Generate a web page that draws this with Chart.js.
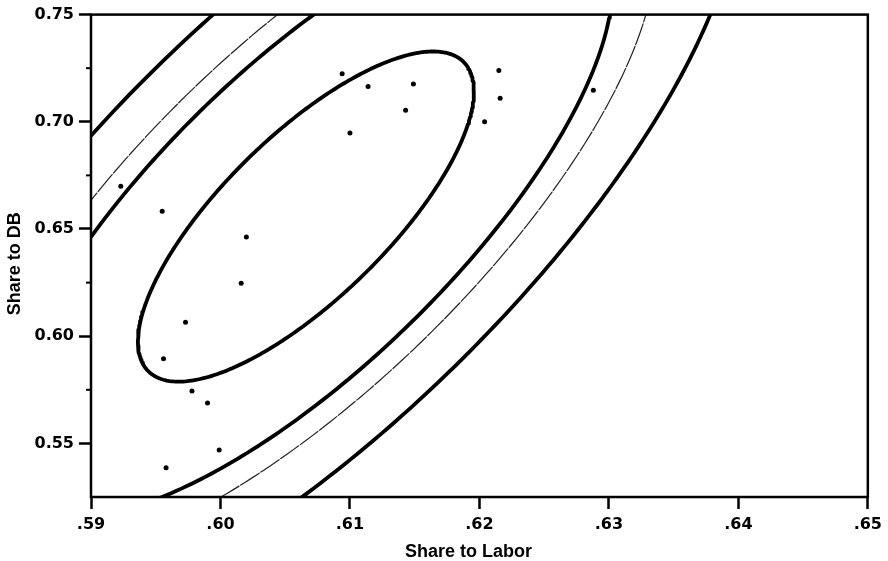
<!DOCTYPE html>
<html>
<head>
<meta charset="utf-8">
<script src="https://cdn.jsdelivr.net/npm/chart.js@4"></script>
<style>
  html, body { margin: 0; padding: 0; background: #fff; }
  canvas { display: block; }
</style>
</head>
<body>
<canvas id="chart" width="888" height="561"></canvas>
<script>
// Observed shares: labor (x) and DB (y)
const shareToLabor = [0.5923, 0.5955, 0.6020, 0.6016, 0.5973, 0.5956, 0.5978, 0.5990, 0.5999, 0.5958,
                      0.6094, 0.6114, 0.6149, 0.6143, 0.6100, 0.6215, 0.6216, 0.6204, 0.6288];
const shareToDB    = [0.6699, 0.6583, 0.6463, 0.6247, 0.6065, 0.5895, 0.5744, 0.5688, 0.5469, 0.5387,
                      0.7224, 0.7165, 0.7176, 0.7054, 0.6948, 0.7239, 0.7110, 0.7000, 0.7147];

// Joint confidence region: centre, standard deviations and correlation of the estimate
const regionCenter = [0.6066, 0.6558];
const regionSD = [0.01102, 0.0654];
const regionCorr = 0.758;
const confidenceLevels = [0.50, 0.90, 0.95, 0.99];

// Axis ticks and titles
const xTicks = [0.59, 0.60, 0.61, 0.62, 0.63, 0.64, 0.65];
const yTicks = [0.55, 0.60, 0.65, 0.70, 0.75];
const yMinorTicks = [0.575, 0.625, 0.675, 0.725];
const xTitle = 'Share to Labor';
const yTitle = 'Share to DB';

// Outline of the bivariate-normal confidence ellipse for a given coverage level
function confidenceEllipse(level, n = 360) {
  const r = Math.sqrt(-2 * Math.log(1 - level));
  const s = Math.sqrt(1 - regionCorr * regionCorr);
  const pts = [];
  for (let i = 0; i <= n; i++) {
    const t = 2 * Math.PI * i / n;
    const u = Math.cos(t), v = Math.sin(t);
    pts.push({
      x: regionCenter[0] + r * regionSD[0] * u,
      y: regionCenter[1] + r * regionSD[1] * (regionCorr * u + s * v)
    });
  }
  return pts;
}

const ellipseSets = confidenceLevels.map(level => {
  const thin = level === 0.95;
  return {
    label: (level * 100) + '%',
    data: confidenceEllipse(level),
    showLine: true,
    pointRadius: 0,
    borderColor: thin ? '#222' : '#000',
    borderWidth: thin ? 1.2 : 3.8,
    borderDash: thin ? [22, 2] : [],
    borderJoinStyle: 'round',
    borderCapStyle: 'round',
    tension: 0,
    clip: 0
  };
});

const pointSet = {
  label: 'observations',
  data: shareToLabor.map((x, i) => ({ x, y: shareToDB[i] })),
  showLine: false,
  pointRadius: 2.5,
  pointBackgroundColor: '#000',
  pointBorderWidth: 0
};

// Box around the plotting area, short minor ticks and axis titles
const decorations = {
  id: 'decorations',
  afterDatasetsDraw(chart) {
    const { ctx, chartArea: ca } = chart;
    ctx.save();
    ctx.strokeStyle = '#000';
    ctx.lineWidth = 2.5;
    ctx.strokeRect(ca.left, ca.top, ca.right - ca.left, ca.bottom - ca.top);
    const yScale = chart.scales.y;
    ctx.lineWidth = 2;
    yMinorTicks.forEach(v => {
      const py = yScale.getPixelForValue(v);
      ctx.beginPath();
      ctx.moveTo(ca.left - 5, py);
      ctx.lineTo(ca.left, py);
      ctx.stroke();
    });
    ctx.restore();
  },
  afterDraw(chart) {
    const { ctx, chartArea: ca } = chart;
    ctx.save();
    ctx.fillStyle = '#000';
    ctx.font = 'bold 18px "Liberation Sans", Arial, sans-serif';
    ctx.textAlign = 'center';
    ctx.textBaseline = 'alphabetic';
    ctx.fillText(xTitle, (ca.left + ca.right) / 2 - 11, chart.height - 4.5);
    ctx.translate(ca.left - 71, (ca.top + ca.bottom) / 2 + 8);
    ctx.rotate(-Math.PI / 2);
    ctx.fillText(yTitle, 0, 0);
    ctx.restore();
  }
};

const tickFont = { family: '"DejaVu Sans", sans-serif', weight: 'bold', size: 16 };

new Chart(document.getElementById('chart'), {
  type: 'scatter',
  data: { datasets: [...ellipseSets, pointSet] },
  options: {
    responsive: false,
    animation: false,
    devicePixelRatio: 1,
    layout: { padding: { top: 12, right: 19, left: 0, bottom: 0 } },
    plugins: { legend: { display: false }, tooltip: { enabled: false } },
    scales: {
      x: {
        type: 'linear',
        min: 0.59,
        max: 0.65,
        afterBuildTicks: s => { s.ticks = xTicks.map(v => ({ value: v })); },
        afterFit: s => { s.height = 64; },
        grid: { drawOnChartArea: false, drawTicks: true, tickLength: 12, tickWidth: 2.5, tickColor: '#000' },
        border: { display: false },
        ticks: {
          color: '#000', font: tickFont, padding: 6, maxRotation: 0, autoSkip: false,
          callback: v => v.toFixed(2).slice(1)
        },
        title: { display: false }
      },
      y: {
        type: 'linear',
        min: 0.525,
        max: 0.75,
        afterBuildTicks: s => { s.ticks = yTicks.map(v => ({ value: v })); },
        afterFit: s => { s.width = 91; },
        grid: { drawOnChartArea: false, drawTicks: true, tickLength: 12, tickWidth: 2.5, tickColor: '#000' },
        border: { display: false },
        ticks: {
          color: '#000', font: tickFont, padding: 5, autoSkip: false,
          callback: v => v.toFixed(2)
        },
        title: { display: false }
      }
    }
  },
  plugins: [decorations]
});
</script>
</body>
</html>
